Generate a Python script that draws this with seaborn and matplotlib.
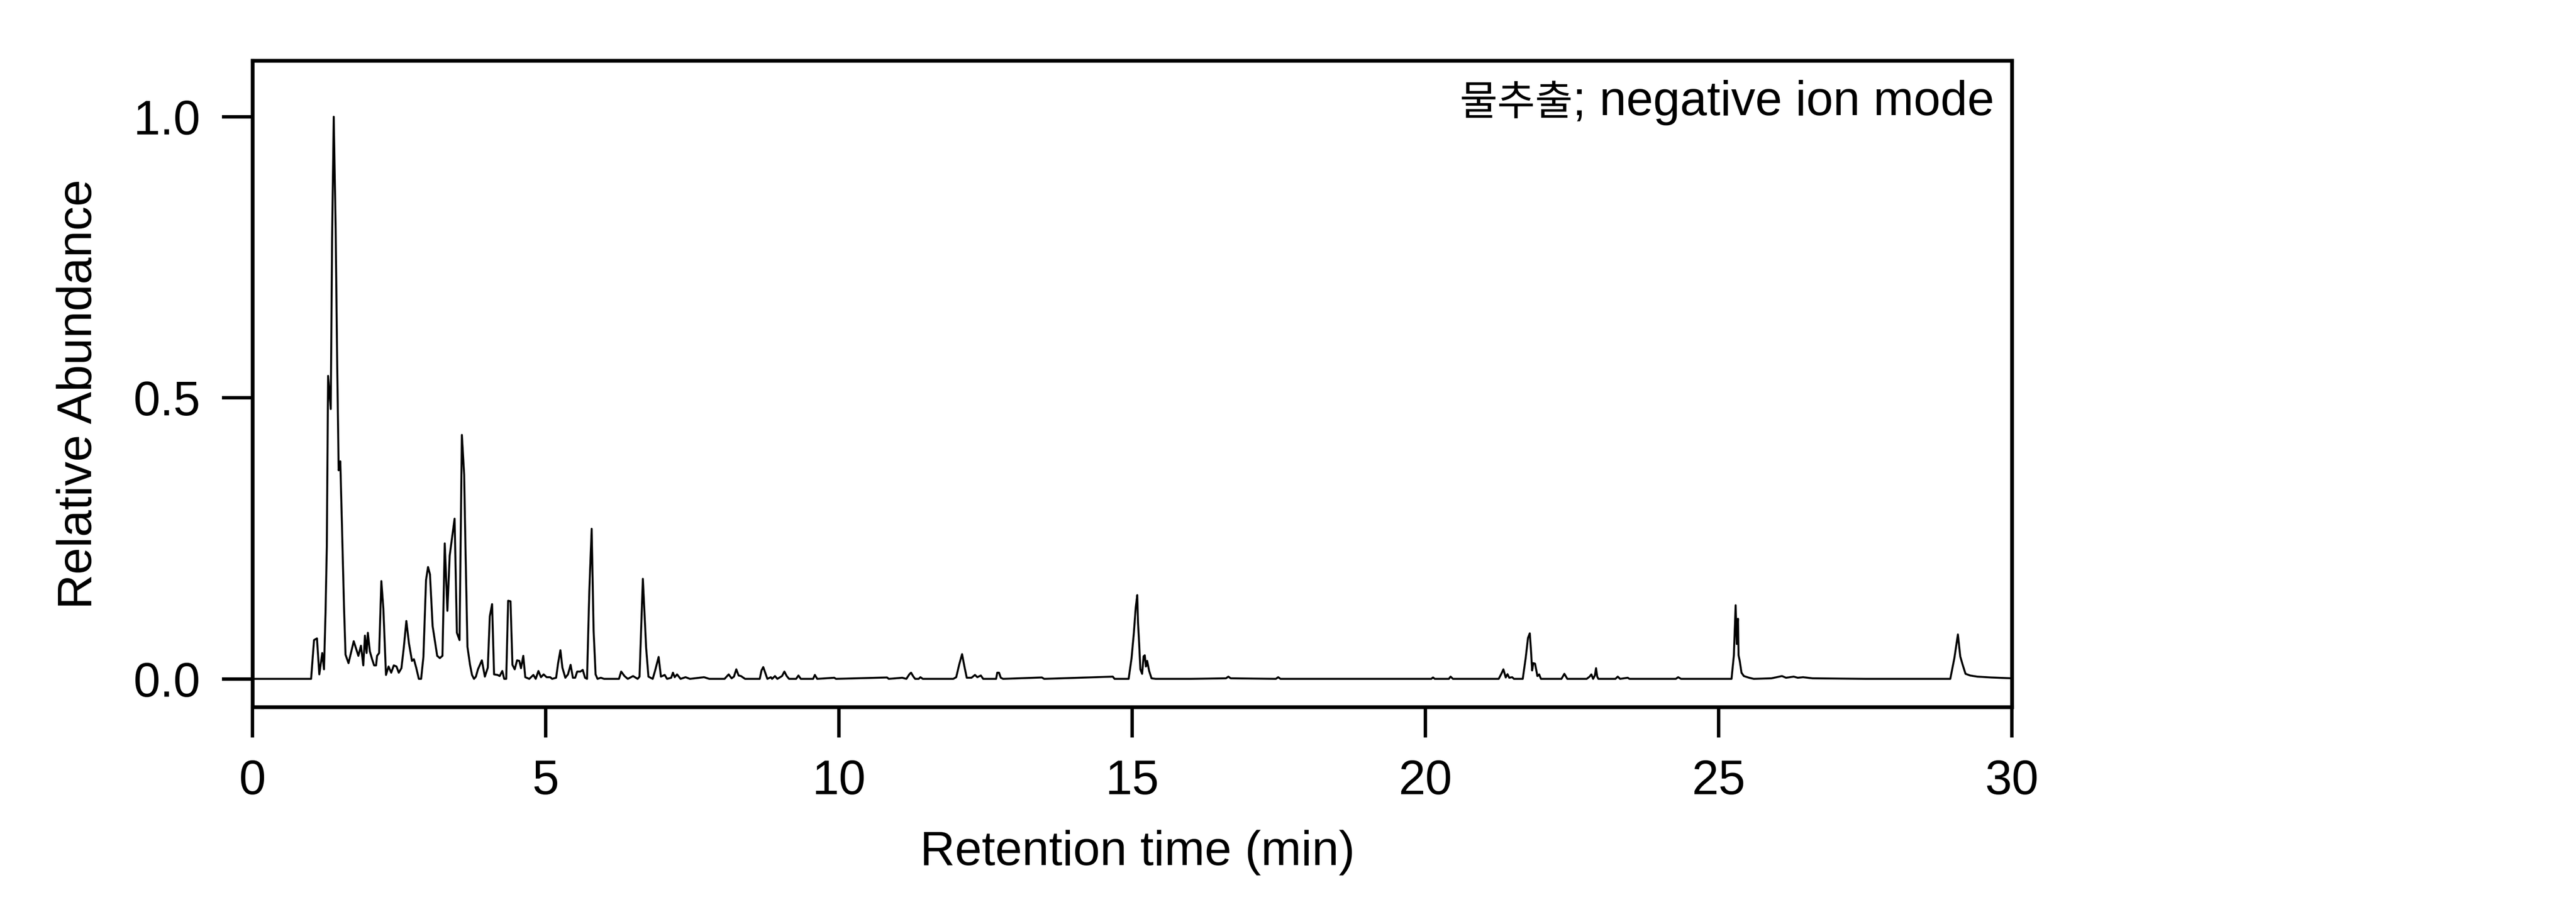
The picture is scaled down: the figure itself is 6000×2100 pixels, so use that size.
import numpy as np
import pandas as pd
import matplotlib
matplotlib.use("Agg")
import matplotlib.pyplot as plt
import seaborn as sns

# retention time (min) / relative abundance
rt_early = [0.0, 1.0, 1.05, 1.10, 1.14, 1.19, 1.22, 1.246, 1.268, 1.29, 1.335, 1.358, 1.386,
            1.419, 1.442, 1.47, 1.498, 1.526, 1.56, 1.587, 1.638, 1.727, 1.806, 1.85, 1.89,
            1.918, 1.946, 1.968, 2.002, 2.04, 2.075, 2.108, 2.125, 2.16, 2.198, 2.232, 2.277,
            2.321, 2.366, 2.41, 2.456, 2.495, 2.54, 2.58, 2.624, 2.669, 2.72, 2.753, 2.792,
            2.837, 2.876, 2.915, 2.96, 2.994, 3.027, 3.072, 3.15, 3.195, 3.24, 3.279, 3.324,
            3.363, 3.402, 3.447, 3.486, 3.531, 3.571, 3.61, 3.632, 3.666, 3.71, 3.744, 3.778,
            3.81, 3.845, 3.912, 3.963, 4.013, 4.047, 4.086, 4.12, 4.181, 4.215, 4.26, 4.293,
            4.327, 4.36, 4.40, 4.433, 4.472, 4.512, 4.551, 4.579, 4.618, 4.652, 4.72, 4.79,
            4.83, 4.876, 4.92, 4.965, 5.016, 5.077, 5.11, 5.178, 5.212, 5.251, 5.285, 5.335,
            5.38, 5.425, 5.464, 5.503, 5.537, 5.593, 5.632, 5.671, 5.705, 5.744, 5.784, 5.817,
            5.851, 5.884, 5.94, 5.996, 6.08, 6.25, 6.287, 6.344, 6.40, 6.49, 6.568, 6.60,
            6.657, 6.713, 6.752, 6.825, 6.864, 6.926, 6.965, 7.03, 7.07, 7.14, 7.17, 7.20,
            7.24, 7.30, 7.385, 7.46, 7.70, 7.79, 8.0]
ab_early = [0.0, 0.0, 0.069, 0.072, 0.008, 0.046, 0.017, 0.117, 0.235, 0.539, 0.48, 0.781, 1.0,
            0.80, 0.586, 0.371, 0.387, 0.274, 0.133, 0.043, 0.028, 0.067, 0.041, 0.059, 0.024,
            0.077, 0.046, 0.082, 0.049, 0.035, 0.024, 0.024, 0.041, 0.046, 0.174, 0.125, 0.007,
            0.022, 0.011, 0.024, 0.022, 0.011, 0.019, 0.055, 0.103, 0.063, 0.032, 0.035, 0.02,
            0.0, 0.0, 0.039, 0.176, 0.199, 0.186, 0.094, 0.041, 0.037, 0.041, 0.241, 0.121,
            0.219, 0.25, 0.285, 0.082, 0.069, 0.434, 0.363, 0.235, 0.057, 0.025, 0.007, 0.0,
            0.004, 0.017, 0.033, 0.004, 0.02, 0.111, 0.133, 0.008, 0.007, 0.005, 0.014, 0.0,
            0.0, 0.139, 0.138, 0.025, 0.017, 0.033, 0.032, 0.019, 0.041, 0.003, 0.0, 0.007,
            0.0, 0.014, 0.003, 0.008, 0.003, 0.003, 0.0, 0.002, 0.028, 0.051, 0.02, 0.002,
            0.008, 0.025, 0.002, 0.002, 0.013, 0.013, 0.016, 0.002, 0.0, 0.156, 0.267, 0.086,
            0.008, 0.0, 0.002, 0.0, 0.0, 0.0, 0.013, 0.005, 0.0, 0.005, 0.0, 0.004,
            0.178, 0.055, 0.004, 0.0, 0.014, 0.039, 0.004, 0.007, 0.0, 0.002, 0.011, 0.003,
            0.008, 0.0, 0.003, 0.0, 0.003, 0.0, 0.0]

rt_mid = [8.05, 8.12, 8.17, 8.21, 8.25, 8.29, 8.33, 8.40, 8.65, 8.68, 8.71, 8.74, 8.78, 8.84,
          8.86, 8.91, 8.95, 9.03, 9.07, 9.11, 9.15, 9.27, 9.31, 9.35, 9.56, 9.59, 9.63, 9.92,
          9.95, 10.82, 10.85, 11.08, 11.15, 11.20, 11.23, 11.27, 11.30, 11.36, 11.39, 11.43,
          11.95, 12.00, 12.05, 12.10, 12.14, 12.18, 12.26, 12.32, 12.36, 12.42, 12.46, 12.68,
          12.70, 12.73, 12.76, 12.80, 13.46, 13.50, 14.67, 14.70, 14.94, 14.99, 15.03, 15.06,
          15.087, 15.10, 15.12, 15.14, 15.17, 15.195, 15.215, 15.235, 15.256, 15.29, 15.33,
          15.40]
ab_mid = [0.0, 0.008, 0.001, 0.004, 0.017, 0.006, 0.005, 0.0, 0.0, 0.015, 0.021, 0.012, 0.0, 0.003,
          0.0, 0.005, 0.0, 0.005, 0.013, 0.005, 0.0, 0.0, 0.006, 0.0, 0.0, 0.007, 0.0, 0.002,
          0.0, 0.0025, 0.0, 0.002, 0.0, 0.008, 0.011, 0.004, 0.0, 0.0, 0.003, 0.0,
          0.0, 0.003, 0.025, 0.044, 0.022, 0.002, 0.002, 0.007, 0.003, 0.006, 0.0, 0.0,
          0.011, 0.011, 0.002, 0.0, 0.0025, 0.0, 0.004, 0.0, 0.0, 0.037, 0.083, 0.126,
          0.149, 0.10, 0.062, 0.017, 0.009, 0.040, 0.042, 0.022, 0.032, 0.014, 0.001,
          0.0]

rt_late = [16.0, 16.60, 16.64, 16.68, 17.45, 17.49, 17.53, 20.10, 20.13, 20.16, 20.40, 20.43,
           20.47, 21.25, 21.30, 21.33, 21.37, 21.40, 21.43, 21.48, 21.51, 21.66, 21.71, 21.75,
           21.78, 21.80, 21.82, 21.84, 21.87, 21.91, 21.94, 21.97, 22.32, 22.37, 22.42, 22.75,
           22.80, 22.83, 22.86, 22.89, 22.91, 22.93, 22.95, 23.24, 23.28, 23.32, 23.45, 23.48]
ab_late = [0.0, 0.001, 0.004, 0.001, 0.0, 0.003, 0.0, 0.0, 0.0025, 0.0, 0.0, 0.004,
           0.0, 0.0, 0.010, 0.017, 0.0025, 0.0084, 0.002, 0.003, 0.0, 0.0, 0.037, 0.073,
           0.081, 0.052, 0.015, 0.028, 0.027, 0.005, 0.008, 0.0, 0.0, 0.009, 0.0, 0.0,
           0.004, 0.008, 0.0, 0.006, 0.019, 0.004, 0.0, 0.0, 0.004, 0.0, 0.002, 0.0]

rt_end = [24.27, 24.31, 24.36, 25.22, 25.26, 25.29, 25.31, 25.33, 25.34, 25.36, 25.39, 25.43,
          25.52, 25.60, 25.90, 26.08, 26.15, 26.28, 26.35, 26.44, 26.60, 27.50, 28.95, 29.02,
          29.08, 29.12, 29.16, 29.21, 29.29, 29.41, 29.65, 29.94, 30.0]
ab_end = [0.0, 0.003, 0.0, 0.0, 0.042, 0.131, 0.062, 0.107, 0.042, 0.032, 0.011, 0.005,
          0.002, 0.0, 0.001, 0.005, 0.002, 0.004, 0.002, 0.003, 0.001, 0.0, 0.0, 0.037,
          0.079, 0.040, 0.0255, 0.009, 0.006, 0.004, 0.0025, 0.0013, 0.001]

x_ticks = [0, 5, 10, 15, 20, 25, 30]
y_ticks = [0.0, 0.5, 1.0]
y_ticklabels = ["0.0", "0.5", "1.0"]
note_kr = "물추출"
note_mode = "; negative ion mode"

df = pd.DataFrame({
    "rt": rt_early + rt_mid + rt_late + rt_end,
    "abund": ab_early + ab_mid + ab_late + ab_end,
})

sns.set_style("ticks")
plt.rcParams["font.family"] = ["Liberation Sans", "Noto Sans CJK KR", "DejaVu Sans"]
plt.rcParams["text.color"] = "black"
plt.rcParams["axes.labelcolor"] = "black"

fig = plt.figure(figsize=(20, 7), dpi=300)
ax = fig.add_axes([0.098, 0.2162, 0.683, 0.7167])

sns.lineplot(data=df, x="rt", y="abund", ax=ax, color="black", linewidth=1.1,
             estimator=None, sort=False)

ax.set_xlim(0, 30)
ax.set_ylim(-0.05, 1.1)
ax.set_xticks(x_ticks)
ax.set_xticklabels([str(t) for t in x_ticks])
ax.set_yticks(y_ticks)
ax.set_yticklabels(y_ticklabels)

for s in ax.spines.values():
    s.set_visible(True)
    s.set_linewidth(2.1)
    s.set_color("black")

ax.tick_params(axis="both", direction="out", length=17, width=1.9, pad=12,
               labelsize=27, colors="black")

ax.set_xlabel("Retention time (min)", fontsize=27, color="black")
ax.set_ylabel("Relative Abundance", fontsize=27, color="black")
ax.xaxis.set_label_coords(0.503, -0.19)
ax.yaxis.set_label_coords(-0.0857, 0.484)

# latin part first, then the (narrower) hangul placed just left of it
t_mode = ax.text(0.990, 0.9156, note_mode, transform=ax.transAxes, ha="right",
                 va="baseline", fontsize=27, color="black")
fig.canvas.draw()
bb = t_mode.get_window_extent()
x_left = ax.transAxes.inverted().transform((bb.x0, bb.y0))[0]
ax.text(x_left, 0.9156, note_kr, transform=ax.transAxes, ha="right", va="baseline",
        fontsize=23, color="black", family=["Noto Sans CJK KR", "DejaVu Sans"])

fig.savefig("out.png", dpi=300, facecolor="white")
